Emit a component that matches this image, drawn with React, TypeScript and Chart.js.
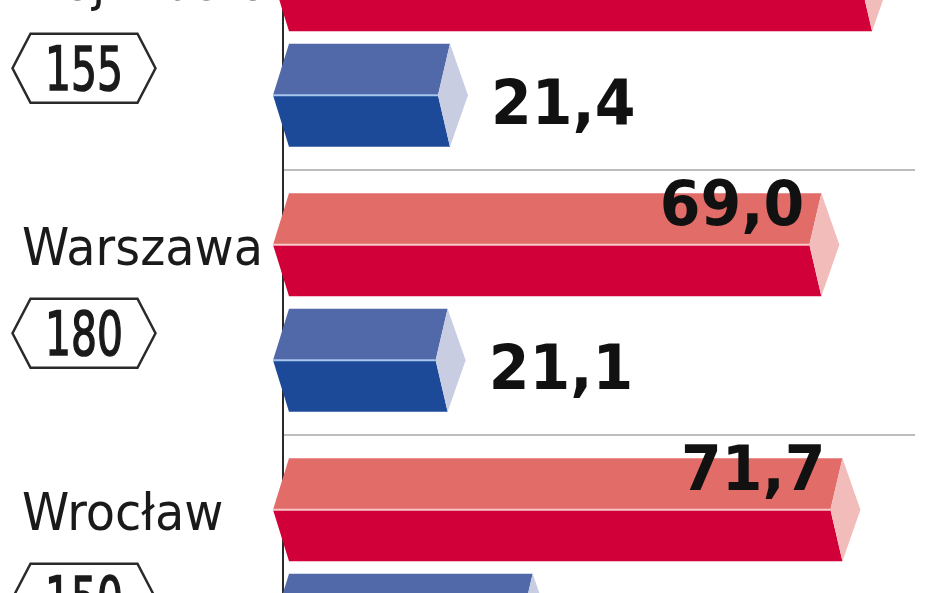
import React, { useEffect, useRef } from "react";
import { Chart, registerables } from "chart.js";

Chart.register(...registerables);

const cities = ["Trójmiasto", "Warszawa", "Wrocław"];
const redValues = [75.5, 69.0, 71.7];
const blueValues = [21.4, 21.1, 32.0];
const badgeLabels = ["155", "180", "150"];

const RED = { top: "#e26c68", bottom: "#d20038", cap: "#f2bcba", line: "#f7c9c9" };
const BLUE = { top: "#5169a9", bottom: "#1d4a98", cap: "#c8cde2", line: "#a6c6ee" };
const PALETTES = [RED, BLUE];

const fmt = (v: number) => v.toFixed(1).replace(".", ",");

function drawText(
  ctx: CanvasRenderingContext2D,
  text: string,
  x: number,
  y: number,
  font: string,
  sx: number,
  align: CanvasTextAlign,
  color: string,
  stroke = 0
) {
  ctx.save();
  ctx.font = font;
  ctx.fillStyle = color;
  ctx.textBaseline = "alphabetic";
  ctx.textAlign = align;
  ctx.translate(x, y);
  ctx.scale(sx, 1);
  ctx.fillText(text, 0, 0);
  if (stroke > 0) {
    ctx.strokeStyle = color;
    ctx.lineWidth = stroke;
    ctx.strokeText(text, 0, 0);
  }
  ctx.restore();
}

const prismPlugin = {
  id: "prism",
  afterDatasetsDraw(chart: any) {
    const ctx: CanvasRenderingContext2D = chart.ctx;
    ctx.save();
    chart.data.datasets.forEach((_ds: any, di: number) => {
      const meta = chart.getDatasetMeta(di);
      const pal = PALETTES[di];
      meta.data.forEach((el: any) => {
        const { x, y, base, height } = el.getProps(["x", "y", "base", "height"], true);
        const T = y - height / 2;
        const B = y + height / 2;
        const M = y;
        ctx.beginPath();
        ctx.moveTo(base + 6, T);
        ctx.lineTo(x, T);
        ctx.lineTo(x - 12, M);
        ctx.lineTo(base - 10, M);
        ctx.closePath();
        ctx.fillStyle = pal.top;
        ctx.fill();
        ctx.beginPath();
        ctx.moveTo(base - 10, M);
        ctx.lineTo(x - 12, M);
        ctx.lineTo(x, B);
        ctx.lineTo(base + 6, B);
        ctx.closePath();
        ctx.fillStyle = pal.bottom;
        ctx.fill();
        ctx.beginPath();
        ctx.moveTo(x, T);
        ctx.lineTo(x + 18, M);
        ctx.lineTo(x, B);
        ctx.lineTo(x - 12, M);
        ctx.closePath();
        ctx.fillStyle = pal.cap;
        ctx.fill();
        ctx.beginPath();
        ctx.moveTo(base - 10, M);
        ctx.lineTo(x - 12, M);
        ctx.strokeStyle = pal.line;
        ctx.lineWidth = 2;
        ctx.stroke();
      });
    });
    ctx.restore();
  },
  afterDraw(chart: any) {
    const ctx: CanvasRenderingContext2D = chart.ctx;
    const redMeta = chart.getDatasetMeta(0);
    const blueMeta = chart.getDatasetMeta(1);
    cities.forEach((city, i) => {
      const r = redMeta.data[i];
      const b = blueMeta.data[i];
      drawText(ctx, city, 22, r.y + 20, "52px 'DejaVu Sans'", 0.92, "left", "#1a1a1a");
      drawText(ctx, fmt(redValues[i]), r.x - 17, r.y - 20, "bold 63px 'DejaVu Sans'", 0.93, "right", "#111");
      drawText(ctx, fmt(blueValues[i]), b.x + 41, b.y + 29, "bold 63px 'DejaVu Sans'", 0.93, "left", "#111");
      const cx = 84;
      const cy = b.y - 27;
      const w = 143;
      const h = 69;
      const s = 18;
      ctx.save();
      ctx.beginPath();
      ctx.moveTo(cx - w / 2 + s, cy - h / 2);
      ctx.lineTo(cx + w / 2 - s, cy - h / 2);
      ctx.lineTo(cx + w / 2, cy);
      ctx.lineTo(cx + w / 2 - s, cy + h / 2);
      ctx.lineTo(cx - w / 2 + s, cy + h / 2);
      ctx.lineTo(cx - w / 2, cy);
      ctx.closePath();
      ctx.fillStyle = "#ffffff";
      ctx.fill();
      ctx.strokeStyle = "#2a2a2a";
      ctx.lineWidth = 2.5;
      ctx.stroke();
      ctx.restore();
      drawText(ctx, badgeLabels[i], cx, cy + 22, "60px 'DejaVu Sans'", 0.68, "center", "#1a1a1a", 1.6);
    });
  },
};

export default function App() {
  const ref = useRef<HTMLCanvasElement | null>(null);
  useEffect(() => {
    if (!ref.current) return;
    const chart = new Chart(ref.current, {
      type: "bar",
      data: {
        labels: cities,
        datasets: [
          {
            label: "red",
            data: redValues,
            backgroundColor: "rgba(0,0,0,0)",
            borderWidth: 0,
            categoryPercentage: 0.872,
            barPercentage: 0.89,
          },
          {
            label: "blue",
            data: blueValues,
            backgroundColor: "rgba(0,0,0,0)",
            borderWidth: 0,
            categoryPercentage: 0.872,
            barPercentage: 0.89,
          },
        ],
      },
      options: {
        indexAxis: "y",
        responsive: false,
        animation: false,
        devicePixelRatio: 1,
        layout: { padding: { left: 0, right: 33, top: 0, bottom: 0 } },
        plugins: {
          legend: { display: false },
          tooltip: { enabled: false },
        },
        scales: {
          x: {
            display: false,
            min: 0,
            max: 81,
          },
          y: {
            display: true,
            afterFit: (axis: any) => {
              axis.width = 283;
            },
            ticks: { display: false },
            grid: {
              offset: true,
              drawTicks: false,
              color: "#bdbdbd",
              lineWidth: 2,
            },
            border: { display: true, color: "#2a2a2a", width: 2 },
          },
        },
      },
      plugins: [prismPlugin],
    } as any);
    return () => chart.destroy();
  }, []);

  return (
    <div
      style={{
        position: "fixed",
        left: 0,
        top: 0,
        width: 948,
        height: 593,
        overflow: "hidden",
        background: "#ffffff",
      }}
    >
      <canvas
        ref={ref}
        width={948}
        height={795}
        style={{ position: "absolute", left: 0, top: -95, width: 948, height: 795 }}
      />
    </div>
  );
}
